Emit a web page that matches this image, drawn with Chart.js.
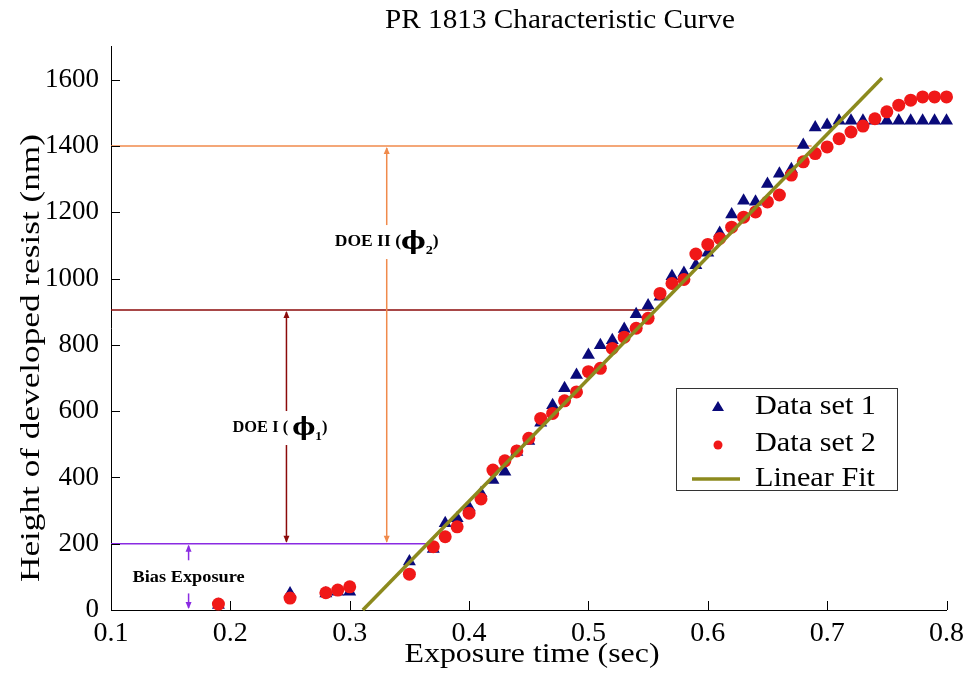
<!DOCTYPE html>
<html>
<head>
<meta charset="utf-8">
<script src="https://cdn.jsdelivr.net/npm/chart.js@4/dist/chart.umd.min.js"></script>
<style>
    html, body { margin: 0; padding: 0; background: #fff; }
    #wrap { width: 971px; height: 679px; }
</style>
</head>
<body>
<div id="wrap"><canvas id="chart" width="971" height="679"></canvas></div>
<script>
// 数据：曝光时间 / 显影高度
const xTicks = [0.1, 0.2, 0.3, 0.4, 0.5, 0.6, 0.7, 0.8];
const yTicks = [0, 200, 400, 600, 800, 1000, 1200, 1400, 1600];

const set1X = [0.19, 0.25, 0.28, 0.29, 0.30, 0.35, 0.37, 0.38, 0.39, 0.40,
    0.41, 0.42, 0.43, 0.44, 0.45, 0.46, 0.47, 0.48, 0.49, 0.50,
    0.51, 0.52, 0.53, 0.54, 0.55, 0.56, 0.57, 0.58, 0.59, 0.60,
    0.61, 0.62, 0.63, 0.64, 0.65, 0.66, 0.67, 0.68, 0.69, 0.70,
    0.71, 0.72, 0.73, 0.74, 0.75, 0.76, 0.77, 0.78, 0.79, 0.80];
const set1Y = [15, 50, 50, 55, 55, 146, 184, 262, 277, 310,
    352, 392, 417, 477, 510, 565, 618, 669, 709, 769,
    799, 814, 848, 892, 919, 945, 1007, 1017, 1040, 1078,
    1137, 1193, 1235, 1232, 1285, 1316, 1330, 1403, 1456, 1463,
    1476, 1476, 1476, 1476, 1476, 1476, 1476, 1476, 1476, 1476];

const set2X = set1X;
const set2Y = [18, 36, 52, 60, 70, 108, 191, 221, 251, 292,
    335, 422, 450, 480, 518, 578, 593, 631, 658, 719,
    729, 789, 823, 850, 880, 955, 985, 997, 1074, 1103,
    1121, 1155, 1185, 1201, 1231, 1252, 1312, 1352, 1377, 1397,
    1422, 1442, 1460, 1482, 1503, 1523, 1538, 1548, 1548, 1548];

const fitX = [0.311, 0.746];
const fitY = [0, 1605];

// 标注：偏置曝光、DOE I、DOE II
const biasLevel = 200;
const doe1Level = 905;
const doe2Level = 1400;

const SERIF = '"Liberation Serif", "Times New Roman", serif';
const NAVY = '#0a0a7a';
const RED = '#f01818';
const OLIVE = '#8c8a1e';

function toPoints(xs, ys) {
    return xs.map((x, i) => ({ x: x, y: ys[i] }));
}

// 按目标宽度横向拉伸文字（原图字体偏宽）
function stretchText(ctx, text, x, y, width, font, vertical) {
    ctx.save();
    ctx.font = font;
    ctx.textAlign = 'center';
    ctx.textBaseline = 'middle';
    ctx.translate(x, y);
    if (vertical) ctx.rotate(-Math.PI / 2);
    const w = ctx.measureText(text).width;
    ctx.scale(width / w, 1);
    ctx.fillText(text, 0, 0);
    ctx.restore();
}

function arrowHead(ctx, x, y, dir, color) {
    // dir: -1 向上, 1 向下
    ctx.fillStyle = color;
    ctx.beginPath();
    ctx.moveTo(x, y);
    ctx.lineTo(x - 3, y - dir * 7);
    ctx.lineTo(x + 3, y - dir * 7);
    ctx.closePath();
    ctx.fill();
}

function vLine(ctx, x, y1, y2, color) {
    ctx.strokeStyle = color;
    ctx.lineWidth = 1.5;
    ctx.beginPath();
    ctx.moveTo(x, y1);
    ctx.lineTo(x, y2);
    ctx.stroke();
}

function hLine(ctx, x1, x2, y, color) {
    ctx.strokeStyle = color;
    ctx.lineWidth = 1.5;
    ctx.beginPath();
    ctx.moveTo(x1, y);
    ctx.lineTo(x2, y);
    ctx.stroke();
}

function doeLabel(ctx, x, y, head, sub, width) {
    const fMain = 'bold 16px ' + SERIF;
    const fPhi = 'bold 24px "DejaVu Serif", serif';
    const fSub = 'bold 13px ' + SERIF;
    ctx.save();
    ctx.textBaseline = 'middle';
    ctx.textAlign = 'left';
    ctx.font = fMain;
    const w1 = ctx.measureText(head).width;
    ctx.font = fPhi;
    const w2 = ctx.measureText('\u03d5').width;
    ctx.font = fSub;
    const w3 = ctx.measureText(sub).width;
    ctx.font = fMain;
    const w4 = ctx.measureText(')').width;
    const total = w1 + w2 + w3 + w4;
    ctx.fillStyle = '#fff';
    ctx.fillRect(x - width / 2 - 2, y - 17, width + 4, 34);
    ctx.translate(x - width / 2, y);
    ctx.scale(width / total, 1);
    ctx.fillStyle = '#000';
    let left = 0;
    ctx.font = fMain;
    ctx.fillText(head, left, 0);
    left += w1;
    ctx.font = fPhi;
    ctx.fillText('\u03d5', left, 1);
    left += w2;
    ctx.font = fSub;
    ctx.fillText(sub, left, 9);
    left += w3;
    ctx.font = fMain;
    ctx.fillText(')', left, 0);
    ctx.restore();
}

const annotationPlugin = {
    id: 'annotations',
    beforeDatasetsDraw(chart) {
        const ctx = chart.ctx;
        const xs = chart.scales.x;
        const ys = chart.scales.y;
        const left = chart.chartArea.left;
        ctx.save();

        // 水平参考线
        const purple = '#8a2be2';
        const darkRed = '#8b0a0a';
        const orange = '#f08a4b';
        hLine(ctx, left, xs.getPixelForValue(0.368), ys.getPixelForValue(biasLevel), purple);
        hLine(ctx, left, xs.getPixelForValue(0.553), ys.getPixelForValue(doe1Level), darkRed);
        hLine(ctx, left, xs.getPixelForValue(0.687), ys.getPixelForValue(doe2Level), orange);

        // Bias Exposure
        const bx = xs.getPixelForValue(0.165);
        vLine(ctx, bx, ys.getPixelForValue(150), ys.getPixelForValue(biasLevel) + 2, purple);
        arrowHead(ctx, bx, ys.getPixelForValue(biasLevel) + 1, -1, purple);
        vLine(ctx, bx, ys.getPixelForValue(50), ys.getPixelForValue(0) - 2, purple);
        arrowHead(ctx, bx, ys.getPixelForValue(0) - 1, 1, purple);
        ctx.fillStyle = '#000';
        stretchText(ctx, 'Bias Exposure', bx, ys.getPixelForValue(97), 112, 'bold 16px ' + SERIF);

        // DOE I
        const d1x = xs.getPixelForValue(0.247);
        vLine(ctx, d1x, ys.getPixelForValue(biasLevel) - 2, ys.getPixelForValue(doe1Level) + 2, darkRed);
        arrowHead(ctx, d1x, ys.getPixelForValue(biasLevel) - 1, 1, darkRed);
        arrowHead(ctx, d1x, ys.getPixelForValue(doe1Level) + 1, -1, darkRed);
        doeLabel(ctx, 280, ys.getPixelForValue(549), 'DOE I ( ', '1', 95);

        // DOE II
        const d2x = xs.getPixelForValue(0.331);
        vLine(ctx, d2x, ys.getPixelForValue(biasLevel) - 2, ys.getPixelForValue(doe2Level) + 2, orange);
        arrowHead(ctx, d2x, ys.getPixelForValue(biasLevel) - 1, 1, orange);
        arrowHead(ctx, d2x, ys.getPixelForValue(doe2Level) + 1, -1, orange);
        doeLabel(ctx, d2x, ys.getPixelForValue(1110), 'DOE II (', '2', 104);

        // 内向刻度
        ctx.strokeStyle = '#000';
        ctx.lineWidth = 1;
        const bottom = chart.chartArea.bottom;
        xTicks.forEach(v => {
            const px = Math.round(xs.getPixelForValue(v)) + 0.5;
            ctx.beginPath();
            ctx.moveTo(px, bottom);
            ctx.lineTo(px, bottom - 9);
            ctx.stroke();
        });
        yTicks.forEach(v => {
            const py = Math.round(ys.getPixelForValue(v)) + 0.5;
            ctx.beginPath();
            ctx.moveTo(left, py);
            ctx.lineTo(left + 9, py);
            ctx.stroke();
        });
        ctx.restore();
    },
    afterDraw(chart) {
        const ctx = chart.ctx;
        ctx.save();
        ctx.fillStyle = '#000';

        // 标题与坐标轴标题
        stretchText(ctx, 'PR 1813 Characteristic Curve', 560, 21, 350, '28px ' + SERIF);
        stretchText(ctx, 'Exposure time (sec)', 532, 655, 255, '28px ' + SERIF);
        stretchText(ctx, 'Height of developed resist (nm)', 32, 358, 448, '28px ' + SERIF, true);

        // 图例
        ctx.fillStyle = '#fff';
        ctx.fillRect(676, 388, 221, 102);
        ctx.strokeStyle = '#333';
        ctx.lineWidth = 1;
        ctx.strokeRect(676.5, 388.5, 221, 102);

        ctx.fillStyle = NAVY;
        ctx.beginPath();
        ctx.moveTo(718, 401);
        ctx.lineTo(712, 411);
        ctx.lineTo(724, 411);
        ctx.closePath();
        ctx.fill();

        ctx.fillStyle = RED;
        ctx.beginPath();
        ctx.arc(718, 445, 4.5, 0, Math.PI * 2);
        ctx.fill();

        ctx.strokeStyle = OLIVE;
        ctx.lineWidth = 3.5;
        ctx.beginPath();
        ctx.moveTo(692, 479);
        ctx.lineTo(740, 479);
        ctx.stroke();

        ctx.fillStyle = '#000';
        const lx = 755;
        stretchText(ctx, 'Data set 1', lx + 60.5, 407, 121, '28px ' + SERIF);
        stretchText(ctx, 'Data set 2', lx + 60.5, 444, 121, '28px ' + SERIF);
        stretchText(ctx, 'Linear Fit', lx + 60, 479, 120, '28px ' + SERIF);
        ctx.restore();
    }
};

const ctx = document.getElementById('chart').getContext('2d');
new Chart(ctx, {
    type: 'scatter',
    data: {
        datasets: [
            {
                label: 'Data set 1',
                data: toPoints(set1X, set1Y),
                pointStyle: 'triangle',
                pointRadius: 7.5,
                backgroundColor: NAVY,
                borderColor: NAVY,
                borderWidth: 0,
                clip: false,
                order: 3
            },
            {
                label: 'Data set 2',
                data: toPoints(set2X, set2Y),
                pointStyle: 'circle',
                pointRadius: 6.5,
                backgroundColor: RED,
                borderColor: RED,
                borderWidth: 0,
                clip: false,
                order: 2
            },
            {
                label: 'Linear Fit',
                data: toPoints(fitX, fitY),
                showLine: true,
                pointRadius: 0,
                borderColor: OLIVE,
                borderWidth: 3.5,
                clip: false,
                order: 1
            }
        ]
    },
    options: {
        responsive: false,
        animation: false,
        layout: {
            padding: { top: 46.5, right: 23, left: 0, bottom: 0 }
        },
        plugins: {
            legend: { display: false },
            title: { display: false },
            tooltip: { enabled: false }
        },
        scales: {
            x: {
                type: 'linear',
                min: 0.1,
                max: 0.8,
                grid: { display: false, drawTicks: false },
                border: { display: true, color: '#000', width: 1 },
                ticks: {
                    color: '#000',
                    font: { family: SERIF, size: 28 },
                    padding: 7,
                    maxRotation: 0,
                    callback: v => v.toFixed(1)
                },
                afterBuildTicks: s => { s.ticks = xTicks.map(v => ({ value: v })); },
                afterFit: s => { s.height = 69; }
            },
            y: {
                type: 'linear',
                min: 0,
                max: 1700,
                grid: { display: false, drawTicks: false },
                border: { display: true, color: '#000', width: 1 },
                ticks: {
                    color: '#000',
                    font: { family: SERIF, size: 27 },
                    padding: 12,
                    callback: v => String(v)
                },
                afterBuildTicks: s => { s.ticks = yTicks.map(v => ({ value: v })); },
                afterFit: s => { s.width = 111; }
            }
        }
    },
    plugins: [annotationPlugin]
});
</script>
</body>
</html>
